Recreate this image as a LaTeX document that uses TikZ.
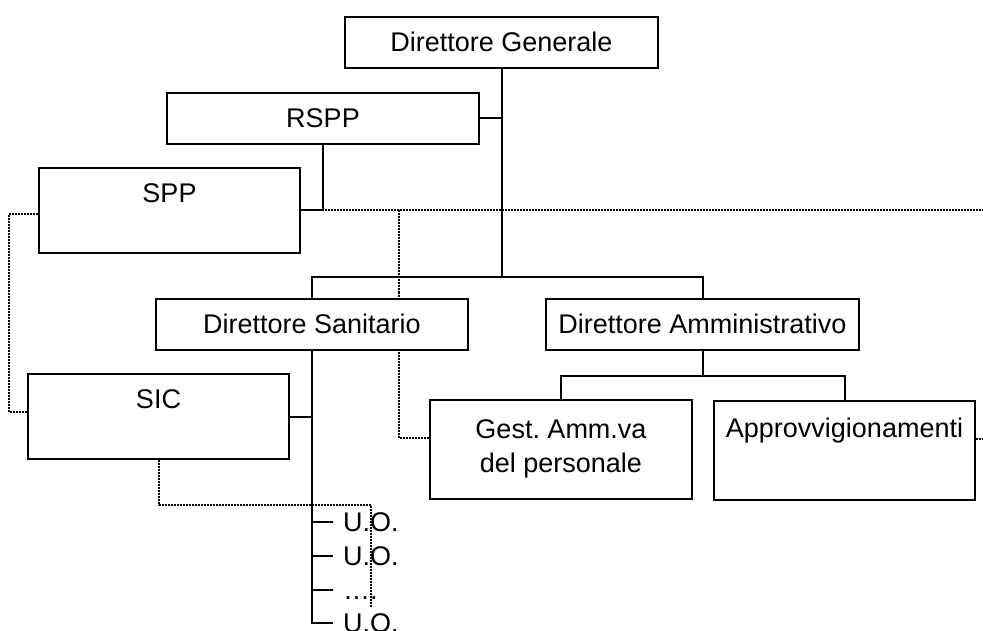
\documentclass[tikz,border=0pt]{standalone}
\usepackage{fontspec}
\setmainfont{Liberation Sans}
\usepackage{tikz}
\usetikzlibrary{backgrounds}
\newcommand{\orgfont}{\fontsize{27}{34.5}\selectfont}
\frenchspacing

\begin{document}
\begin{tikzpicture}[
  x=1pt, y=-1pt,
  basebox/.style={rectangle, draw, fill=white, line width=2pt, inner sep=0pt, font=\orgfont, minimum width=312pt, minimum height=51pt},
  orgbox/.style={basebox, text height=19pt, text depth=0pt},
  tallbox/.style={basebox, minimum width=261pt},
  link/.style={line width=2pt},
  dotlink/.style={line width=2pt, dash pattern=on 2pt off 1pt},
  uolabel/.style={font=\orgfont, inner sep=0pt, text height=19pt, text depth=0pt, anchor=west}
]
  \useasboundingbox (0,0) rectangle (983,631);
  \coordinate (rim) at (983,0);

  % Direzione generale
  \node[orgbox, minimum width=313pt] (dg) at (501.5,42.5) {Direttore Generale};
  \node[orgbox] (rspp) at (323,118.5) {RSPP};
  \node[tallbox, text height=35pt, text depth=50pt] (spp) at (169.5,210.5) {SPP};

  % Direttori
  \node[orgbox] (ds) at (312,324.5) {Direttore Sanitario};
  \node[orgbox, minimum width=313pt] (da) at (702.5,324.5) {Direttore Amministrativo};

  % Servizi
  \node[tallbox, text height=34pt, text depth=51pt] (sic) at (158.5,416.5) {SIC};
  \node[basebox, minimum width=262pt, minimum height=99pt, align=center] (gest) at (561,449) {Gest.\ Amm.va\\del personale};
  \node[tallbox, text height=36pt, text depth=63pt] (approv) at (844.5,450.5) {Approvvigionamenti};

  % Unita operative
  \node[uolabel] (uo1) at (343,522) {U.O.};
  \node[uolabel] (uo2) at (343,556) {U.O.};
  \node[uolabel] (uo3) at (343,589.5) {….};
  \node[uolabel] (uo4) at (343,623) {U.O.};

  \begin{scope}[on background layer]
    % collegamenti funzionali
    \coordinate (tap) at (399,210.5);
    \draw[dotlink] (spp.east) -- (spp.east -| rim);
    \draw[dotlink] (tap) |- ([yshift=11.5pt]gest.west);
    \draw[dotlink] ([yshift=11.5pt]approv.east) -- ([yshift=11.5pt]approv.east -| rim);
    \draw[dotlink] ([yshift=-3.5pt]spp.west) -- ++(-29,0) |- ([yshift=4.5pt]sic.west);
    \coordinate (sicend) at (371,607);
    \draw[dotlink] (sic.south) -- ++(0,45) -| (sicend);

    % linea gerarchica
    \draw[link] (dg.south) -- ++(0,208) coordinate (bar);
    \draw[link] (ds.north) |- (bar) -| (da.north);
    \draw[link] (rspp.east) -- (rspp.east -| dg.south);
    \draw[link] (rspp.south) |- (spp.east);
    \draw[link] (da.south) -- ++(0,25) coordinate (abar);
    \draw[link] (gest.north) |- (abar) -| (approv.north);
    \draw[link] (sic.east) -- (sic.east -| ds.south);
    \draw[link] (ds.south) |- ([xshift=-10pt]uo4.west);
    \foreach \n in {uo1,uo2,uo3}
      \draw[link] (\n.west -| ds.south) -- ([xshift=-10pt]\n.west);
  \end{scope}
\end{tikzpicture}
\end{document}
